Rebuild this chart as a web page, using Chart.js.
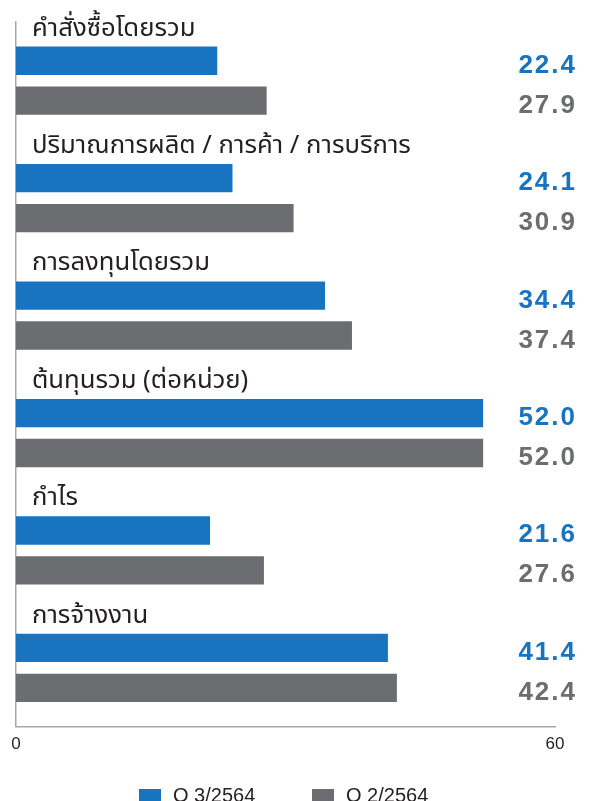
<!DOCTYPE html>
<html>
<head>
<meta charset="utf-8">
<script src="https://cdn.jsdelivr.net/npm/chart.js@4.4.1/dist/chart.umd.min.js"></script>
<style>
  html, body { margin: 0; padding: 0; background: #ffffff; overflow: hidden; }
  #wrap { width: 594px; height: 801px; }
</style>
</head>
<body>
<div id="wrap"><canvas id="surveyChart" width="594" height="801"></canvas></div>
<script>
// categories and values
const categories = [
    'คำสั่งซื้อโดยรวม',
    'ปริมาณการผลิต / การค้า / การบริการ',
    'การลงทุนโดยรวม',
    'ต้นทุนรวม (ต่อหน่วย)',
    'กำไร',
    'การจ้างงาน'
];
const seriesNames = ['Q 3/2564', 'Q 2/2564'];
const q3Values = [22.4, 24.1, 34.4, 52.0, 21.6, 41.4];
const q2Values = [27.9, 30.9, 37.4, 52.0, 27.6, 42.4];
const axisMin = 0;
const axisMax = 60;

const BLUE = '#1874c1';
const GRAY = '#6c6d70';
const TEXT = '#231f20';
const THAI_FONT = '"Noto Sans Thai", "Noto Sans Thai UI", "Noto Sans", "Loma", "Garuda", sans-serif';

// titles above each group, values on the right, legend at the bottom
const labelsPlugin = {
    id: 'groupLabels',
    afterDatasetsDraw(chart) {
        const ctx = chart.ctx;
        const blueMeta = chart.getDatasetMeta(0);
        const grayMeta = chart.getDatasetMeta(1);
        ctx.save();

        // category titles
        ctx.font = '25.7px ' + THAI_FONT;
        ctx.fillStyle = TEXT;
        ctx.textAlign = 'left';
        ctx.textBaseline = 'alphabetic';
        chart.data.labels.forEach((label, i) => {
            const bar = blueMeta.data[i];
            ctx.fillText(label, 32, bar.y - bar.height / 2 - 11);
        });

        // value labels
        ctx.font = 'bold 26px "Liberation Sans", Arial, sans-serif';
        ctx.letterSpacing = '2px';
        ctx.textAlign = 'right';
        [blueMeta, grayMeta].forEach((meta, d) => {
            const ds = chart.data.datasets[d];
            ctx.fillStyle = ds.backgroundColor;
            meta.data.forEach((bar, i) => {
                ctx.fillText(ds.data[i].toFixed(1), 577, bar.y + 12);
            });
        });
        ctx.letterSpacing = '0px';

        // legend
        const legendX = [139, 312];
        ctx.font = '20px "Liberation Sans", Arial, sans-serif';
        ctx.textAlign = 'left';
        chart.data.datasets.forEach((ds, d) => {
            ctx.fillStyle = ds.backgroundColor;
            ctx.fillRect(legendX[d], 789, 22, 22);
            ctx.fillStyle = TEXT;
            ctx.fillText(ds.label, legendX[d] + 34, 802);
        });
        ctx.restore();
    }
};

const canvas = document.getElementById('surveyChart');
new Chart(canvas.getContext('2d'), {
    type: 'bar',
    data: {
        labels: categories,
        datasets: [{
            label: seriesNames[0],
            data: q3Values,
            backgroundColor: BLUE,
            borderWidth: 0,
            categoryPercentage: 0.68,
            barPercentage: 0.71
        }, {
            label: seriesNames[1],
            data: q2Values,
            backgroundColor: GRAY,
            borderWidth: 0,
            categoryPercentage: 0.68,
            barPercentage: 0.71
        }]
    },
    options: {
        indexAxis: 'y',
        responsive: false,
        animation: false,
        layout: { padding: { left: 16, right: 39, top: 22, bottom: 38 } },
        plugins: {
            legend: { display: false },
            tooltip: { enabled: false }
        },
        scales: {
            x: {
                min: axisMin,
                max: axisMax,
                grid: { display: false, drawTicks: false },
                border: { display: true, color: '#a7a7a7', width: 1.5 },
                ticks: {
                    stepSize: axisMax - axisMin,
                    color: TEXT,
                    padding: 8,
                    font: { family: '"Liberation Sans", Arial, sans-serif', size: 17 }
                }
            },
            y: {
                grid: { display: false, drawTicks: false },
                border: { display: true, color: '#a7a7a7', width: 1.5 },
                ticks: { display: false }
            }
        }
    },
    plugins: [labelsPlugin]
});
</script>
</body>
</html>
